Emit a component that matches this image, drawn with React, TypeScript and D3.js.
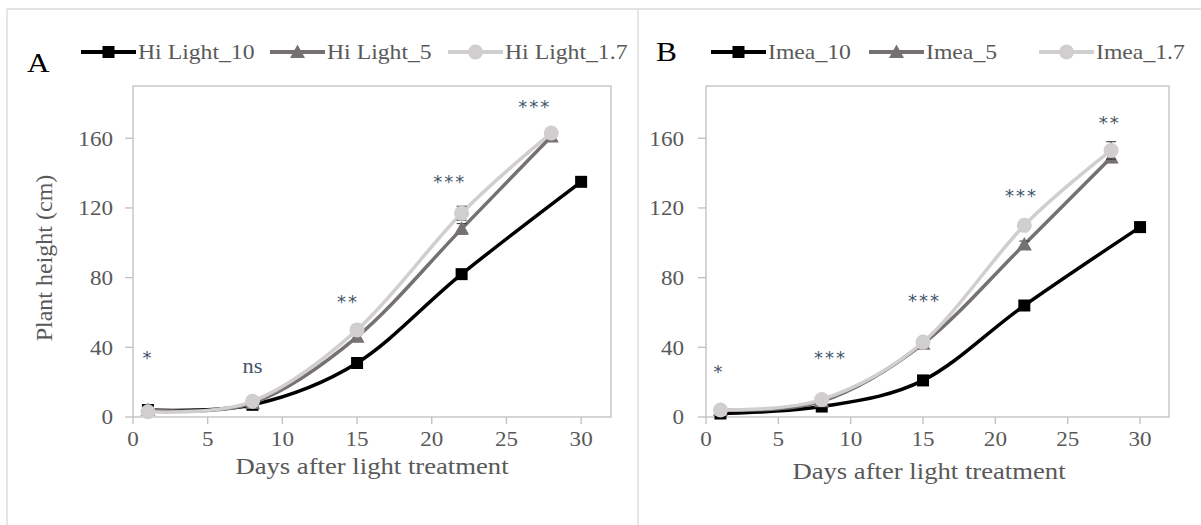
import React from "react";
import * as d3 from "d3";

const W = 1201;
const H = 525;

// days of measurement
const daysLong = [1, 8, 15, 22, 30];
const daysShort = [1, 8, 15, 22, 28];

// panel A – Hi Light
const hiLight10 = [4, 7, 31, 82, 135];
const hiLight5 = [4, 8, 46, 108, 161];
const hiLight17 = [3, 9, 50, 117, 163];
const hiLight10Err = [0.5, 0.8, 1.5, 2, 2];
const hiLight5Err = [1, 1, 2, 3, 2];
const hiLight17Err = [1, 1, 3, 4, 2];

// panel B – Imea
const imea10 = [2, 6, 21, 64, 109];
const imea5 = [4, 9, 42, 99, 149];
const imea17 = [4, 10, 43, 110, 153];
const imea10Err = [0.5, 0.8, 1, 2, 2];
const imea5Err = [1, 1, 1.5, 2, 3];
const imea17Err = [1, 1, 2, 2, 5];

// significance marks: day, height, label
const starsA = [
  { day: 1, y: 34, label: "*" },
  { day: 8, y: 29, label: "ns" },
  { day: 14.4, y: 66, label: "**" },
  { day: 21.2, y: 135, label: "***" },
  { day: 26.9, y: 178, label: "***" },
];
const starsB = [
  { day: 0.9, y: 26, label: "*" },
  { day: 8.6, y: 34, label: "***" },
  { day: 15.1, y: 67, label: "***" },
  { day: 21.8, y: 127, label: "***" },
  { day: 27.9, y: 169, label: "**" },
];

const yTicks = [0, 40, 80, 120, 160];
const xTicks = [0, 5, 10, 15, 20, 25, 30];

const BLACK = "#000000";
const GRAY = "#767171";
const LIGHT = "#d0cece";
const TXT = "#595959";
const STAR = "#44546a";
const SERIF = "'Liberation Serif', 'Times New Roman', serif";

type Series = { name: string; days: number[]; values: number[]; err: number[]; color: string; marker: string };

const seriesA: Series[] = [
  { name: "Hi Light_10", days: daysLong, values: hiLight10, err: hiLight10Err, color: BLACK, marker: "square" },
  { name: "Hi Light_5", days: daysShort, values: hiLight5, err: hiLight5Err, color: GRAY, marker: "triangle" },
  { name: "Hi Light_1.7", days: daysShort, values: hiLight17, err: hiLight17Err, color: LIGHT, marker: "circle" },
];
const seriesB: Series[] = [
  { name: "Imea_10", days: daysLong, values: imea10, err: imea10Err, color: BLACK, marker: "square" },
  { name: "Imea_5", days: daysShort, values: imea5, err: imea5Err, color: GRAY, marker: "triangle" },
  { name: "Imea_1.7", days: daysShort, values: imea17, err: imea17Err, color: LIGHT, marker: "circle" },
];

// serif text, slightly widened like the source figure
const T = ({ x, y, size, sx = 1.12, anchor = "start", fill = TXT, dy, children }: any) => (
  <text transform={`translate(${x},${y}) scale(${sx},1)`} dy={dy} fontSize={size} fontFamily={SERIF}
    textAnchor={anchor} fill={fill}>
    {children}
  </text>
);

const Marker = ({ type, x, y, color }: { type: string; x: number; y: number; color: string }) => {
  if (type === "square") return <rect x={x - 6} y={y - 6} width={12} height={12} fill={color} />;
  if (type === "triangle")
    return <path d={`M${x},${y - 7.5}L${x + 7.5},${y + 6}L${x - 7.5},${y + 6}Z`} fill={color} />;
  return <circle cx={x} cy={y} r={7.5} fill={color} />;
};

const Panel = ({
  letter, series, stars, box, legendX, letterX, letterY, titleX, titleY, tickGap,
}: {
  letter: string; series: Series[]; stars: { day: number; y: number; label: string }[];
  box: { l: number; t: number; r: number; b: number }; legendX: number[]; letterX: number; letterY: number;
  titleX: number; titleY: number; tickGap: number;
}) => {
  const x = d3.scaleLinear().domain([0, 32]).range([box.l, box.r]);
  const y = d3.scaleLinear().domain([0, 190]).range([box.b, box.t]);
  const line = d3
    .line<[number, number]>()
    .x((d) => x(d[0]))
    .y((d) => y(d[1]))
    .curve(d3.curveCatmullRom.alpha(0));
  const x0 = x(0);
  return (
    <g>
      <T x={letterX} y={letterY} size={28} fill="#000">{letter}</T>
      {series.map((s, i) => (
        <g key={s.name} transform={`translate(${legendX[i]},52)`}>
          <line x1={0} x2={55} y1={0} y2={0} stroke={s.color} strokeWidth={4} />
          <Marker type={s.marker} x={27.5} y={0} color={s.color} />
          <T x={57} y={7} size={21} sx={1.13}>{s.name}</T>
        </g>
      ))}
      <rect x={box.l} y={box.t} width={box.r - box.l} height={box.b - box.t} fill="none" stroke="#bfbfbf" strokeWidth={1.3} />
      {yTicks.map((t) => (
        <g key={t}>
          <line x1={x0 - 8} x2={x0} y1={y(t)} y2={y(t)} stroke="#bfbfbf" strokeWidth={1.3} />
          <T x={x0 - tickGap} y={y(t)} dy="0.35em" anchor="end" size={21} sx={1.1}>{t}</T>
        </g>
      ))}
      {xTicks.map((t) => (
        <g key={t}>
          <line x1={x(t)} x2={x(t)} y1={y(0)} y2={y(0) + 7} stroke="#bfbfbf" strokeWidth={1.3} />
          <T x={x(t)} y={y(0) + 29} anchor="middle" size={21} sx={1.1}>{t}</T>
        </g>
      ))}
      <T x={titleX} y={titleY} anchor="middle" size={23} sx={1.16}>Days after light treatment</T>
      {series.map((s) => (
        <g key={s.name}>
          <path d={line(s.days.map((d, i) => [d, s.values[i]] as [number, number])) || ""} fill="none" stroke={s.color} strokeWidth={3.5} />
          {s.days.map((d, i) => (
            <g key={d}>
              <line x1={x(d)} x2={x(d)} y1={y(s.values[i] - s.err[i])} y2={y(s.values[i] + s.err[i])} stroke="#333" strokeWidth={1} />
              <line x1={x(d) - 5} x2={x(d) + 5} y1={y(s.values[i] + s.err[i])} y2={y(s.values[i] + s.err[i])} stroke="#333" strokeWidth={1} />
              <line x1={x(d) - 5} x2={x(d) + 5} y1={y(s.values[i] - s.err[i])} y2={y(s.values[i] - s.err[i])} stroke="#333" strokeWidth={1} />
              <Marker type={s.marker} x={x(d)} y={y(s.values[i])} color={s.color} />
            </g>
          ))}
        </g>
      ))}
      {stars.map((s, i) =>
        s.label === "ns" ? (
          <T key={i} x={x(s.day)} y={y(s.y)} dy="0.35em" anchor="middle" size={20} fill={STAR}>{s.label}</T>
        ) : (
          <text key={i} x={x(s.day)} y={y(s.y)} dy="0.35em" textAnchor="middle" fontSize={18}
            letterSpacing={2} fontFamily="'DejaVu Sans', sans-serif" fill={STAR}>
            {s.label}
          </text>
        )
      )}
    </g>
  );
};

export default function App() {
  return (
    <div style={{ position: "absolute", left: 0, top: 0 }}>
      <svg width={W} height={H} style={{ display: "block", background: "#fff" }}>
        <line x1={7} x2={W} y1={9} y2={9} stroke="#d9d9d9" strokeWidth={1.3} />
        <line x1={7} x2={7} y1={9} y2={H} stroke="#d9d9d9" strokeWidth={1.3} />
        <line x1={638} x2={638} y1={9} y2={H} stroke="#d9d9d9" strokeWidth={1.3} />
        <text transform="translate(52,258) rotate(-90)" textAnchor="middle" fontSize={24} fontFamily={SERIF} fill={TXT}>
          Plant height (cm)
        </text>
        <Panel letter="A" series={seriesA} stars={starsA} box={{ l: 133, t: 86, r: 611, b: 417 }}
          legendX={[81, 270, 448]} letterX={27} letterY={72} titleX={372} titleY={474} tickGap={20} />
        <Panel letter="B" series={seriesB} stars={starsB} box={{ l: 706, t: 86, r: 1169, b: 417 }}
          legendX={[711, 869, 1039]} letterX={656} letterY={61} titleX={929} titleY={479} tickGap={22} />
      </svg>
    </div>
  );
}
